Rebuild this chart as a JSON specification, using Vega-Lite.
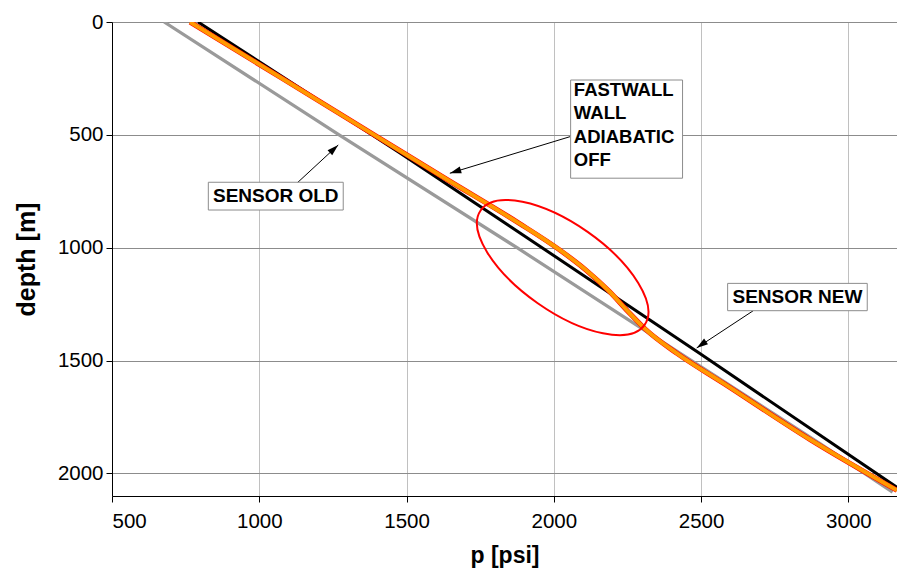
{
  "$schema": "https://vega.github.io/schema/vega-lite/v6.json",
  "width": 785,
  "height": 474,
  "autosize": {"type": "none"},
  "padding": {"left": 112, "top": 22, "right": 0, "bottom": 76},
  "background": "white",
  "config": {
    "view": {"stroke": null},
    "font": "Liberation Sans",
    "axis": {
      "labelFont": "Liberation Sans",
      "titleFont": "Liberation Sans",
      "labelColor": "black",
      "titleColor": "black",
      "domainColor": "black",
      "tickColor": "black",
      "tickSize": 6,
      "labelFontSize": 20.5,
      "titleFontWeight": "bold"
    }
  },
  "datasets": {
    "sensorOld": [
      {"p": 677, "depth": 0},
      {"p": 1271, "depth": 500},
      {"p": 1875, "depth": 1000},
      {"p": 2420, "depth": 1460},
      {"p": 2905, "depth": 1869},
      {"p": 3150, "depth": 2083}
    ],
    "sensorNew": [
      {"p": 792, "depth": 0},
      {"p": 1475, "depth": 578},
      {"p": 1960, "depth": 1000},
      {"p": 2497, "depth": 1470},
      {"p": 3165, "depth": 2062}
    ],
    "fastwall": [
      {"p": 765, "depth": 0},
      {"p": 1390, "depth": 500},
      {"p": 1640, "depth": 700},
      {"p": 1880, "depth": 890},
      {"p": 2020, "depth": 1010},
      {"p": 2110, "depth": 1100},
      {"p": 2188, "depth": 1193},
      {"p": 2250, "depth": 1280},
      {"p": 2310, "depth": 1360},
      {"p": 2420, "depth": 1470},
      {"p": 2575, "depth": 1600},
      {"p": 2870, "depth": 1850},
      {"p": 3165, "depth": 2075}
    ],
    "boxes": [
      {"label": "SENSOR OLD", "p1": 827, "p2": 1285, "d1": 710, "d2": 833, "pt": 1056, "dt": 771},
      {"label": "SENSOR NEW", "p1": 2590, "p2": 3064, "d1": 1158, "d2": 1279, "pt": 2827, "dt": 1218}
    ],
    "fastwallBox": [
      {"label": "FASTWALL\nWALL\nADIABATIC\nOFF", "p1": 2057, "p2": 2437, "d1": 257, "d2": 692, "pt": 2068, "dt": 301}
    ],
    "arrows": [
      {"target": "SENSOR OLD", "p": 1127, "depth": 715, "pTip": 1268, "dTip": 545},
      {"target": "FASTWALL", "p": 2055, "depth": 508, "pTip": 1647, "dTip": 670},
      {"target": "SENSOR NEW", "p": 2677, "depth": 1279, "pTip": 2485, "dTip": 1444}
    ],
    "highlight": [
      {"p": 2030, "depth": 1088}
    ]
  },
  "encoding": {
    "x": {
      "field": "p",
      "type": "quantitative",
      "scale": {"domain": [500, 3165], "nice": false, "zero": false},
      "axis": {
        "title": "p [psi]",
        "titleFontSize": 23,
        "titlePadding": 13,
        "format": "d",
        "values": [500, 1000, 1500, 2000, 2500, 3000],
        "grid": true,
        "gridColor": "#c0c0c0",
        "labelPadding": 9
      }
    },
    "y": {
      "field": "depth",
      "type": "quantitative",
      "scale": {"domain": [0, 2100], "reverse": true, "nice": false},
      "axis": {
        "title": "depth [m]",
        "titleFontSize": 25,
        "titlePadding": 18,
        "format": "d",
        "values": [0, 500, 1000, 1500, 2000],
        "grid": true,
        "gridColor": "#8c8c8c",
        "labelPadding": 3
      }
    }
  },
  "layer": [
    {
      "data": {"name": "sensorOld"},
      "mark": {"type": "line", "color": "#9a9a9a", "strokeWidth": 3.2, "clip": true}
    },
    {
      "data": {"name": "sensorNew"},
      "mark": {"type": "line", "color": "black", "strokeWidth": 3, "clip": true, "interpolate": "monotone"}
    },
    {
      "data": {"name": "fastwall"},
      "mark": {"type": "line", "color": "#ff0000", "strokeWidth": 5, "clip": true, "interpolate": "monotone"}
    },
    {
      "data": {"name": "fastwall"},
      "mark": {"type": "line", "color": "#ff9900", "strokeWidth": 4, "clip": true, "interpolate": "monotone"}
    },
    {
      "data": {"name": "highlight"},
      "mark": {
        "type": "point",
        "shape": "M-1,0A1,0.435,0,1,1,1,0A1,0.435,0,1,1,-1,0Z",
        "size": 40000,
        "angle": 35,
        "filled": false,
        "stroke": "#ff0000",
        "strokeWidth": 2,
        "opacity": 1
      }
    },
    {
      "data": {"name": "arrows"},
      "mark": {"type": "rule", "color": "black", "strokeWidth": 1},
      "encoding": {
        "x2": {"field": "pTip"},
        "y2": {"field": "dTip"}
      }
    },
    {
      "data": {"name": "arrows"},
      "transform": [{"filter": "datum.target == 'SENSOR OLD'"}],
      "mark": {"type": "point", "shape": "M0,0L-0.6,2L0.6,2Z", "size": 130, "angle": 47, "filled": true, "color": "black", "opacity": 1},
      "encoding": {
        "x": {"field": "pTip", "type": "quantitative"},
        "y": {"field": "dTip", "type": "quantitative"}
      }
    },
    {
      "data": {"name": "arrows"},
      "transform": [{"filter": "datum.target == 'FASTWALL'"}],
      "mark": {"type": "point", "shape": "M0,0L-0.6,2L0.6,2Z", "size": 130, "angle": 253, "filled": true, "color": "black", "opacity": 1},
      "encoding": {
        "x": {"field": "pTip", "type": "quantitative"},
        "y": {"field": "dTip", "type": "quantitative"}
      }
    },
    {
      "data": {"name": "arrows"},
      "transform": [{"filter": "datum.target == 'SENSOR NEW'"}],
      "mark": {"type": "point", "shape": "M0,0L-0.6,2L0.6,2Z", "size": 130, "angle": 235, "filled": true, "color": "black", "opacity": 1},
      "encoding": {
        "x": {"field": "pTip", "type": "quantitative"},
        "y": {"field": "dTip", "type": "quantitative"}
      }
    },
    {
      "data": {"name": "boxes"},
      "mark": {"type": "rect", "fill": "white", "stroke": "#8c8c8c", "strokeWidth": 1},
      "encoding": {
        "x": {"field": "p1", "type": "quantitative"},
        "x2": {"field": "p2"},
        "y": {"field": "d1", "type": "quantitative"},
        "y2": {"field": "d2"}
      }
    },
    {
      "data": {"name": "boxes"},
      "mark": {"type": "text", "font": "Liberation Sans", "fontWeight": "bold", "fontSize": 19, "align": "center", "baseline": "middle", "color": "black"},
      "encoding": {
        "x": {"field": "pt", "type": "quantitative"},
        "y": {"field": "dt", "type": "quantitative"},
        "text": {"field": "label"}
      }
    },
    {
      "data": {"name": "fastwallBox"},
      "mark": {"type": "rect", "fill": "white", "stroke": "#8c8c8c", "strokeWidth": 1},
      "encoding": {
        "x": {"field": "p1", "type": "quantitative"},
        "x2": {"field": "p2"},
        "y": {"field": "d1", "type": "quantitative"},
        "y2": {"field": "d2"}
      }
    },
    {
      "data": {"name": "fastwallBox"},
      "mark": {"type": "text", "font": "Liberation Sans", "fontWeight": "bold", "fontSize": 18.5, "align": "left", "baseline": "middle", "lineBreak": "\n", "lineHeight": 23.5, "color": "black"},
      "encoding": {
        "x": {"field": "pt", "type": "quantitative"},
        "y": {"field": "dt", "type": "quantitative"},
        "text": {"field": "label"}
      }
    }
  ]
}
